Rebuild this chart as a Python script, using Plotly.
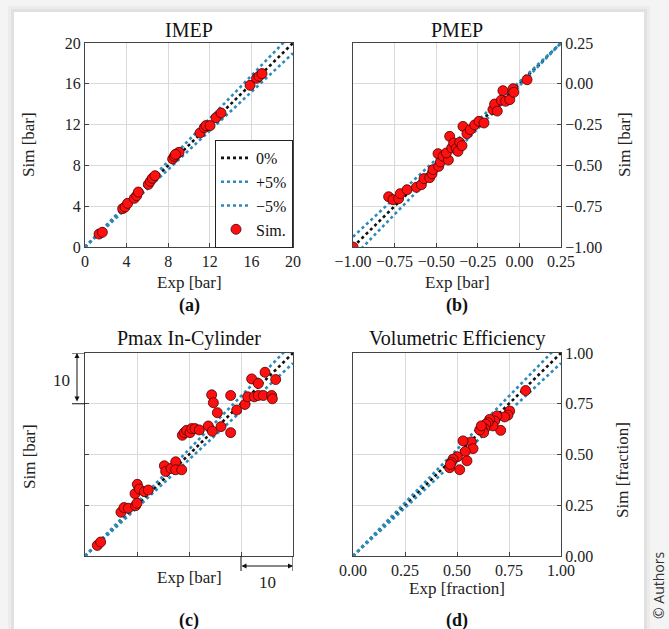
import plotly.graph_objects as go

W, H = 669, 629

# ---------------- data ----------------
imep_exp = [1.35, 1.67, 3.62, 3.85, 4.10, 4.74, 4.97, 5.13, 6.09, 6.28, 6.47, 6.73,
            8.43, 8.59, 8.81, 9.04, 8.70, 11.06, 11.47, 11.63, 12.02, 12.60, 13.08,
            15.87, 16.50, 16.73, 17.02]
imep_sim = [1.27, 1.44, 3.76, 3.92, 4.28, 4.77, 5.03, 5.39, 6.14, 6.44, 6.73, 6.99,
            8.63, 8.89, 9.12, 9.28, 9.08, 11.18, 11.70, 11.90, 11.90, 12.68, 13.14,
            15.85, 16.54, 16.73, 17.00]

pmep_exp = [-1.000, -0.786, -0.760, -0.726, -0.716, -0.675, -0.619, -0.589, -0.573, -0.539,
            -0.525, -0.519, -0.485, -0.475, -0.489, -0.459, -0.427, -0.439, -0.419, -0.407,
            -0.395, -0.379, -0.369, -0.359, -0.345, -0.339, -0.315, -0.295, -0.269, -0.243,
            -0.213, -0.159, -0.149, -0.133, -0.109, -0.099, -0.083, -0.058, -0.038, -0.034,
            0.046]
pmep_sim = [-1.000, -0.692, -0.710, -0.704, -0.673, -0.649, -0.634, -0.618, -0.581, -0.575,
            -0.551, -0.526, -0.506, -0.479, -0.428, -0.444, -0.467, -0.424, -0.322, -0.393,
            -0.363, -0.395, -0.414, -0.359, -0.379, -0.261, -0.306, -0.281, -0.252, -0.230,
            -0.240, -0.158, -0.124, -0.167, -0.101, -0.042, -0.107, -0.097, -0.030, -0.052,
            0.025]

pmax_exp = [42.37, 43.01, 46.92, 47.50, 48.33, 49.74, 50.00, 49.62, 50.06, 50.45, 51.41, 52.18,
            55.26, 55.51, 56.54, 57.44, 57.44, 58.59, 58.72, 59.10, 59.55, 60.19, 60.51, 61.15,
            61.99, 63.72, 64.36, 64.68, 64.49, 65.45, 66.15, 68.01, 68.01, 69.17, 70.77, 71.28,
            72.05, 72.56, 73.33, 73.33, 74.29, 74.62, 75.90, 76.03, 76.67]
pmax_sim = [42.09, 42.75, 48.63, 49.54, 49.41, 49.93, 50.39, 52.29, 54.12, 53.20, 52.68, 53.00,
            57.78, 56.67, 57.25, 58.56, 56.99, 56.99, 63.79, 64.31, 64.77, 64.31, 65.10, 65.10,
            64.84, 65.62, 71.76, 70.20, 64.58, 68.24, 65.49, 71.63, 64.31, 68.76, 69.87, 71.37,
            74.90, 71.37, 73.99, 71.63, 71.63, 76.20, 71.63, 70.98, 74.77]

ve_exp = [0.830, 0.753, 0.745, 0.729, 0.692, 0.710, 0.681, 0.673, 0.657, 0.649, 0.638, 0.633,
          0.622, 0.628, 0.609, 0.617, 0.569, 0.577, 0.529, 0.540, 0.548, 0.513, 0.502, 0.481,
          0.473, 0.465, 0.468]
ve_sim = [0.815, 0.714, 0.694, 0.685, 0.690, 0.619, 0.665, 0.641, 0.673, 0.657, 0.649, 0.627,
          0.621, 0.608, 0.621, 0.641, 0.562, 0.529, 0.567, 0.515, 0.469, 0.425, 0.489, 0.477,
          0.461, 0.435, 0.451]

# axis ranges, reference-line anchor corners and tick labels
imep_range = [0, 20]
pmep_range = [-1.0, 0.25]
pmax_range = [40, 80]
ve_range = [0.0, 1.0]
imep_ticks = [0, 4, 8, 12, 16, 20]
pmep_ticks = [-1.0, -0.75, -0.5, -0.25, 0.0, 0.25]
pmep_ticktext = ["\u22121.00", "\u22120.75", "\u22120.50", "\u22120.25", "0.00", "0.25"]
pmax_ticks = [50, 60, 70]
ve_ticks = [0.0, 0.25, 0.5, 0.75, 1.0]
ve_ticktext = ["0.00", "0.25", "0.50", "0.75", "1.00"]
dev_pct = 0.05

titles = ["IMEP", "PMEP", "Pmax In-Cylinder", "Volumetric Efficiency"]
sublabels = ["<b>(a)</b>", "<b>(b)</b>", "<b>(c)</b>", "<b>(d)</b>"]

# ---------------- styling ----------------
SERIF = "Liberation Serif"
BLACK = "#111111"
BLUE = "#2b8bbb"
RED = "#ff1010"


def px(x):
    return x / W


def py(y):
    return 1 - y / H


fig = go.Figure()


def add_panel(i, xs, ys, rng, anchor, show_legend):
    xa = "x" if i == 1 else f"x{i}"
    ya = "y" if i == 1 else f"y{i}"
    x0, x1 = rng
    a = anchor
    lx = [x0, x1]
    # reference lines through the anchor corner
    l0 = [a + (v - a) for v in lx]
    lp = [a + (1 + dev_pct) * (v - a) for v in lx]
    lm = [a + (1 - dev_pct) * (v - a) for v in lx]
    for name, yy, col in [("0%", l0, BLACK), ("+5%", lp, BLUE), ("\u22125%", lm, BLUE)]:
        fig.add_trace(go.Scatter(x=lx, y=yy, mode="lines", name=name, xaxis=xa, yaxis=ya,
                                 line=dict(color=col, width=2.6, dash="dot"),
                                 showlegend=show_legend, legendgroup=name, hoverinfo="skip"))
    fig.add_trace(go.Scatter(x=xs, y=ys, mode="markers", name="Sim.", xaxis=xa, yaxis=ya,
                             marker=dict(color=RED, size=10,
                                         line=dict(color="#4a0000", width=0.8)),
                             showlegend=show_legend, legendgroup="sim"))


add_panel(1, imep_exp, imep_sim, imep_range, 0, True)
add_panel(2, pmep_exp, pmep_sim, pmep_range, 0.25, False)
add_panel(3, pmax_exp, pmax_sim, pmax_range, 40, False)
add_panel(4, ve_exp, ve_sim, ve_range, 0.0, False)

# panel pixel boxes (left, right, top, bottom)
boxes = {1: (85, 293, 43, 247), 2: (353, 561, 43, 247),
         3: (85, 293, 353, 556), 4: (353, 561, 353, 556)}

axis_common = dict(showline=True, linecolor="#444444", linewidth=1, mirror=True,
                   showgrid=True, gridcolor="#d9d9d9", gridwidth=1,
                   ticks="inside", ticklen=4, tickcolor="#444444", zeroline=False,
                   automargin=False,
                   tickfont=dict(family=SERIF, size=16, color="#222222"))

layout_axes = {}
cfg = {
    1: dict(rng=imep_range, xt=imep_ticks, xtt=[str(v) for v in imep_ticks],
            yt=imep_ticks, ytt=[str(v) for v in imep_ticks], side="left", labels=True),
    2: dict(rng=pmep_range, xt=pmep_ticks, xtt=pmep_ticktext,
            yt=pmep_ticks, ytt=pmep_ticktext, side="right", labels=True),
    3: dict(rng=pmax_range, xt=pmax_ticks, xtt=["", "", ""],
            yt=pmax_ticks, ytt=["", "", ""], side="left", labels=False),
    4: dict(rng=ve_range, xt=ve_ticks, xtt=ve_ticktext,
            yt=ve_ticks, ytt=ve_ticktext, side="right", labels=True),
}
for i, c in cfg.items():
    l, r, t, b = boxes[i]
    xk = "xaxis" if i == 1 else f"xaxis{i}"
    yk = "yaxis" if i == 1 else f"yaxis{i}"
    ya = "y" if i == 1 else f"y{i}"
    xa = "x" if i == 1 else f"x{i}"
    layout_axes[xk] = dict(axis_common, domain=[px(l), px(r)], range=c["rng"], anchor=ya,
                           tickmode="array", tickvals=c["xt"], ticktext=c["xtt"],
                           showticklabels=c["labels"])
    layout_axes[yk] = dict(axis_common, domain=[py(b), py(t)], range=c["rng"], anchor=xa,
                           tickmode="array", tickvals=c["yt"], ticktext=c["ytt"],
                           side=c["side"], showticklabels=c["labels"])

fig.update_layout(**layout_axes)

ann = []


def text_ann(text, x, y, size, angle=0, family=SERIF, color="#111111"):
    ann.append(dict(text=text, x=px(x), y=py(y), xref="paper", yref="paper",
                    xanchor="center", yanchor="middle", showarrow=False, textangle=angle,
                    font=dict(family=family, size=size, color=color)))


title_y = {1: 30, 2: 30, 3: 338, 4: 338}
sub_y = {1: 305, 2: 305, 3: 620, 4: 620}
for i in range(1, 5):
    l, r, t, b = boxes[i]
    cx = (l + r) / 2
    text_ann(titles[i - 1], cx, title_y[i], 20)
    text_ann(sublabels[i - 1], cx, sub_y[i], 18)

labels = [("Exp [bar]", 189, 282, 0), ("Sim [bar]", 29, 145, -90),
          ("Exp [bar]", 457, 282, 0), ("Sim [bar]", 625, 145, -90),
          ("Exp [bar]", 189, 577, 0), ("Sim [bar]", 29, 457, -90),
          ("Exp [fraction]", 457, 588, 0), ("Sim [fraction]", 622, 470, -90)]
for txt, x, y, ang in labels:
    text_ann(txt, x, y, 17, ang, color="#222222")

# scale bars in panel (c)
ann.append(dict(text="", xref="paper", yref="y3", x=px(77), y=80, axref="pixel", ayref="pixel",
                ax=0, ay=50, showarrow=True, arrowhead=2, arrowside="end+start",
                arrowsize=1, arrowwidth=1, arrowcolor="#111111", standoff=0, startstandoff=0))
ann.append(dict(text="", xref="x3", yref="paper", x=80, y=py(566), ax=-53, ay=0,
                showarrow=True, arrowhead=2, arrowside="end+start",
                arrowsize=1, arrowwidth=1, arrowcolor="#111111", standoff=0, startstandoff=0))
text_ann("10", 61, 380, 17, color="#222222")
text_ann("10", 267, 582, 17, color="#222222")

text_ann("\u00a9 Authors", 658, 586, 14, -90, family="Open Sans", color="#333333")

shapes = [
    dict(type="rect", xref="paper", yref="paper", x0=px(8), x1=px(650), y0=py(640), y1=py(6),
         fillcolor="#ececec", line=dict(width=0), layer="below"),
    dict(type="rect", xref="paper", yref="paper", x0=px(11), x1=px(647), y0=py(640), y1=py(9),
         fillcolor="#e1e1e1", line=dict(width=0), layer="below"),
    dict(type="rect", xref="paper", yref="paper", x0=px(14), x1=px(644), y0=py(640), y1=py(12),
         fillcolor="#ffffff", line=dict(width=0), layer="below"),
    # caps of the scale bars
    dict(type="line", xref="paper", yref="y3", x0=px(72), x1=px(85), y0=80, y1=80,
         line=dict(color="#111111", width=1)),
    dict(type="line", xref="paper", yref="y3", x0=px(72), x1=px(85), y0=70, y1=70,
         line=dict(color="#111111", width=1)),
    dict(type="line", xref="x3", yref="paper", x0=70, x1=70, y0=py(556), y1=py(571),
         line=dict(color="#111111", width=1)),
    dict(type="line", xref="x3", yref="paper", x0=80, x1=80, y0=py(556), y1=py(571),
         line=dict(color="#111111", width=1)),
]

fig.update_layout(
    width=W, height=H, margin=dict(l=0, r=0, t=0, b=0, autoexpand=False),
    paper_bgcolor="#f4f4f4", plot_bgcolor="#ffffff",
    annotations=ann, shapes=shapes,
    legend=dict(x=px(293), y=py(140), xanchor="right", yanchor="top",
                bgcolor="#ffffff", bordercolor="#222222", borderwidth=1,
                font=dict(family=SERIF, size=16, color="#111111"),
                itemwidth=30, tracegroupgap=0),
    font=dict(family=SERIF),
)

fig.write_html("out.html")
